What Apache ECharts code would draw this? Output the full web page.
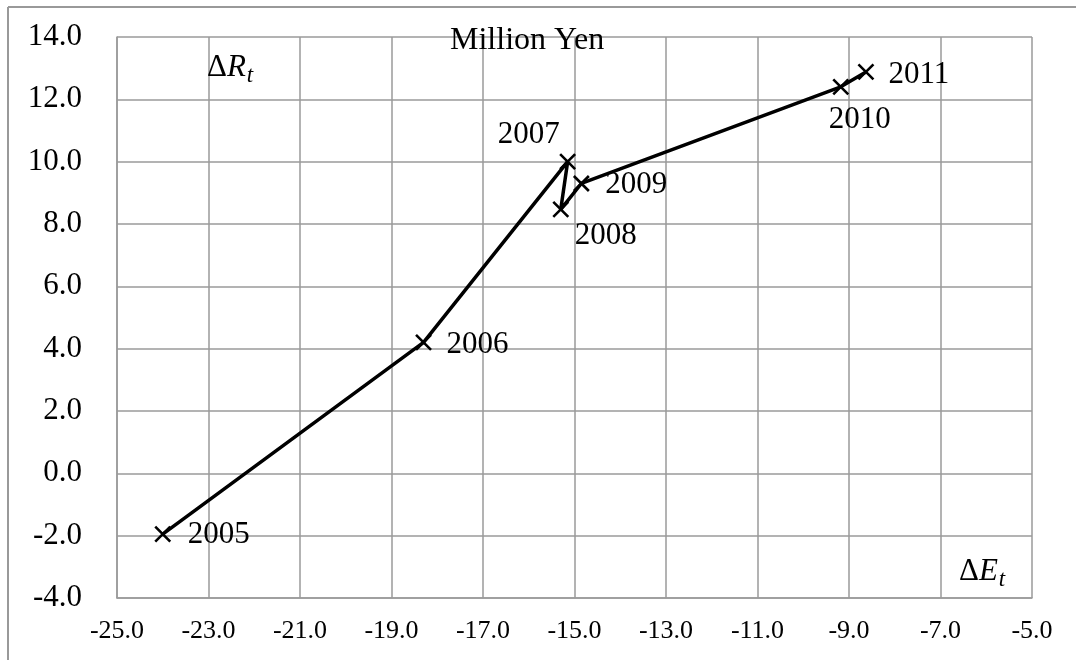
<!DOCTYPE html>
<html>
<head>
<meta charset="utf-8">
<script src="https://cdn.jsdelivr.net/npm/echarts@6/dist/echarts.min.js"></script>
<style>
html,body{margin:0;padding:0;background:#fff;}
#chart{width:1076px;height:660px;}
</style>
</head>
<body>
<div id="chart"></div>
<script>
const years = ['2005','2006','2007','2008','2009','2010','2011'];
const deltaE = [-24.0, -18.3, -15.15, -15.3, -14.85, -9.18, -8.63];
const deltaR = [-1.95, 4.2, 10.0, 8.47, 9.3, 12.4, 12.88];
const xTicks = { min: -25, max: -5, interval: 2 };
const yTicks = { min: -4, max: 14, interval: 2 };
const titleText = 'Million Yen';

// label placement (style only): offset of label centre from the point, in px
const labelOffsets = [[56,1],[54,2],[-39,-27],[45,27],[55,1],[19,33],[53,3]];

const chart = echarts.init(document.getElementById('chart'));
const serif = '"Liberation Serif", "Times New Roman", serif';
const gridColor = '#9a9a9a';

const data = deltaE.map((x, i) => ({
  value: [x, deltaR[i]],
  label: { offset: labelOffsets[i] }
}));

const mathRich = {
  a: { fontFamily: serif, fontSize: 31, fill: '#000' },
  b: { fontFamily: serif, fontSize: 31, fontStyle: 'italic', fill: '#000' },
  s: { fontFamily: serif, fontSize: 23, fontStyle: 'italic', fill: '#000', padding: [16,0,0,1] }
};

chart.setOption({
  backgroundColor: '#fff',
  animation: false,
  grid: { left: 117, top: 37, right: 44, bottom: 62, show: false },
  xAxis: {
    type: 'value', min: xTicks.min, max: xTicks.max, interval: xTicks.interval,
    axisLine: { show: true, onZero: false, lineStyle: { color: gridColor, width: 1.5 } },
    axisTick: { show: false },
    splitLine: { show: true, lineStyle: { color: gridColor, width: 1.5 } },
    axisLabel: { color: '#000', fontFamily: serif, fontSize: 26, margin: 20,
      formatter: v => v.toFixed(1) }
  },
  yAxis: {
    type: 'value', min: yTicks.min, max: yTicks.max, interval: yTicks.interval,
    axisLine: { show: true, onZero: false, lineStyle: { color: gridColor, width: 1.5 } },
    axisTick: { show: false },
    splitLine: { show: true, lineStyle: { color: gridColor, width: 1.5 } },
    axisLabel: { color: '#000', fontFamily: serif, fontSize: 31, margin: 35,
      formatter: v => v.toFixed(1) }
  },
  series: [{
    type: 'line',
    data: data,
    lineStyle: { color: '#000', width: 3.5 },
    symbol: 'path://M0,0L10,10M10,0L0,10',
    symbolSize: 15,
    itemStyle: { color: '#000', borderColor: '#000', borderWidth: 2.6 },
    label: {
      show: true, position: 'inside', align: 'center', verticalAlign: 'middle',
      color: '#000', fontFamily: serif, fontSize: 31,
      formatter: p => years[p.dataIndex]
    },
    z: 5
  }],
  graphic: [
    { type: 'line', shape: { x1: 8, y1: 7, x2: 1076, y2: 7 }, style: { stroke: '#999', lineWidth: 2 } },
    { type: 'line', shape: { x1: 8, y1: 7, x2: 8, y2: 660 }, style: { stroke: '#999', lineWidth: 2 } },
    { type: 'text', left: 450, top: 25, z: 10,
      style: { text: titleText, fill: '#000', font: '32px ' + serif } },
    { type: 'text', left: 207, top: 52, z: 10,
      style: { rich: mathRich, text: '{a|Δ}{b|R}{s|t}' } },
    { type: 'text', left: 959, top: 556, z: 10,
      style: { rich: mathRich, text: '{a|Δ}{b|E}{s|t}' } }
  ]
});
</script>
</body>
</html>
